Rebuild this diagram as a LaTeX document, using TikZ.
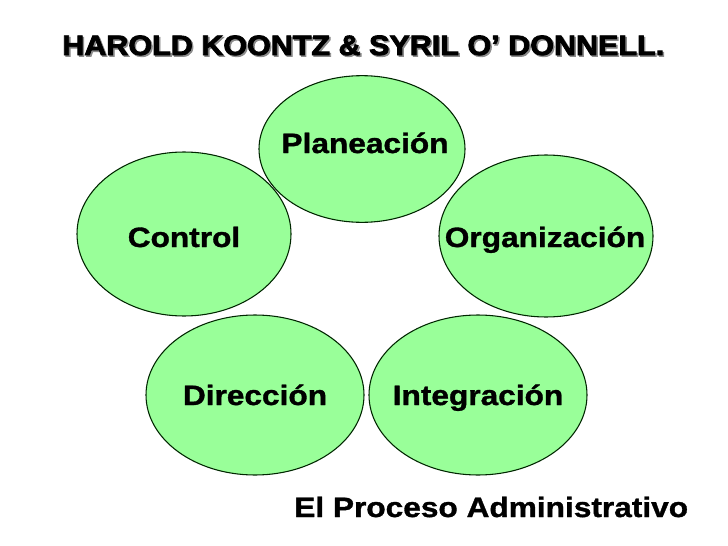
\documentclass[tikz,border=0pt]{standalone}
\usepackage{fontspec}
\setmainfont{Liberation Sans}
\newfontfamily\bodyfont{Liberation Sans}[FakeStretch=1.13,FakeBold=1.2]
\newfontfamily\titlefont{Liberation Sans}[FakeStretch=1.09,FakeBold=3]
\usetikzlibrary{shapes.geometric}
\definecolor{lgreen}{HTML}{99FF99}
\definecolor{shadowgray}{HTML}{8C8C8C}
\tikzset{
  stage/.style={ellipse, draw=black!85!green, line width=0.8pt, fill=lgreen, inner sep=0pt},
  stagetext/.style={font=\bodyfont\bfseries\fontsize{21}{25}\selectfont, anchor=base, inner sep=0pt, text=black},
  titletext/.style={font=\titlefont\bfseries\fontsize{21}{25}\selectfont, anchor=base west, inner sep=0pt},
  caption/.style={font=\bodyfont\bfseries\fontsize{21}{25}\selectfont, anchor=base west, inner sep=0pt}
}
\begin{document}
\begin{tikzpicture}[x=0.75pt,y=-0.75pt]
\useasboundingbox[fill=white] (0,0) rectangle (728,546);
% title with shadow
\node[titletext, text=shadowgray] (titleshadow) at (63.5,56.5) {HAROLD KOONTZ \& SYRIL O’ DONNELL.};
\node[titletext, text=black] (title) at (62,55) {HAROLD KOONTZ \& SYRIL O’ DONNELL.};
% ellipses
\node[stage, minimum width=154.5pt, minimum height=110pt] (plan) at (362,149) {};
\node[stage, minimum width=160.5pt, minimum height=121.5pt] (org) at (546,236) {};
\node[stage, minimum width=163.5pt, minimum height=120pt] (integ) at (478,395) {};
\node[stage, minimum width=163.5pt, minimum height=120pt] (dir) at (255,395) {};
\node[stage, minimum width=160.5pt, minimum height=123pt] (ctrl) at (184,234) {};
% labels
\node[stagetext] (tplan) at (365,153) {Planeación};
\node[stagetext] (tctrl) at (184,247) {Control};
\node[stagetext] (torg) at (545,247) {Organización};
\node[stagetext] (tdir) at (255,405) {Dirección};
\node[stagetext] (tinteg) at (478,405) {Integración};
\node[caption] (cap) at (294,517) {El Proceso Administrativo};
\end{tikzpicture}
\end{document}
